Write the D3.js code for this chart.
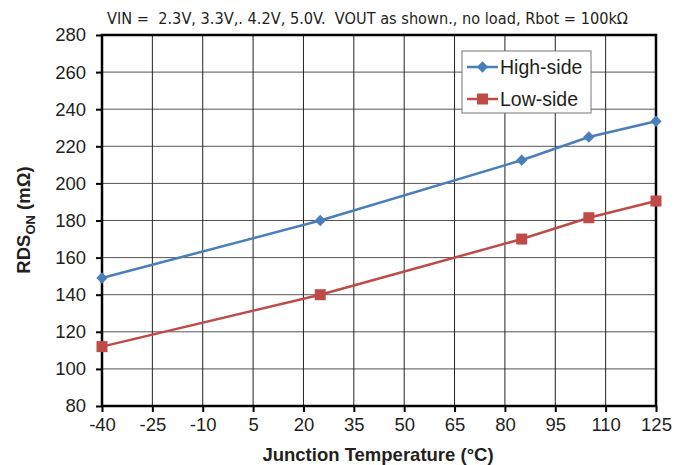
<!DOCTYPE html>
<html>
<head>
<meta charset="utf-8">
<script src="https://cdn.jsdelivr.net/npm/d3@7"></script>
<style>
  body { margin: 0; background: #fff; }
  text { font-family: "Liberation Sans", Arial, sans-serif; }
</style>
</head>
<body>
<div id="chart"></div>
<script>
// data
const temps = [-40, 25, 85, 105, 125];
const highSide = [149, 180, 212.5, 225, 233.5];
const lowSide = [112, 140, 170, 181.5, 190.5];
const xTicks = [-40, -25, -10, 5, 20, 35, 50, 65, 80, 95, 110, 125];
const yTicks = [80, 100, 120, 140, 160, 180, 200, 220, 240, 260, 280];
const seriesNames = ["High-side", "Low-side"];
const titleText = "VIN =  2.3V, 3.3V,. 4.2V, 5.0V.  VOUT as shown., no load, Rbot = 100k\u03A9";

const W = 691, H = 465;
const margin = { top: 35, right: 35, bottom: 59, left: 102 };
const width = W - margin.left - margin.right;
const height = H - margin.top - margin.bottom;

const svg = d3.select("#chart").append("svg")
  .attr("width", W).attr("height", H);

const g = svg.append("g")
  .attr("transform", `translate(${margin.left},${margin.top})`);

const x = d3.scaleLinear().domain([-40, 125]).range([0, width]);
const y = d3.scaleLinear().domain([80, 280]).range([height, 0]);

// grid
g.append("g")
  .selectAll("line")
  .data(yTicks)
  .join("line")
  .attr("x1", 0).attr("x2", width)
  .attr("y1", d => y(d)).attr("y2", d => y(d))
  .attr("stroke", "#555").attr("stroke-width", 1);

g.append("g")
  .selectAll("line")
  .data(xTicks)
  .join("line")
  .attr("x1", d => x(d)).attr("x2", d => x(d))
  .attr("y1", 0).attr("y2", height)
  .attr("stroke", "#222").attr("stroke-width", 1);

// frame
g.append("rect")
  .attr("width", width).attr("height", height)
  .attr("fill", "none").attr("stroke", "#000").attr("stroke-width", 2.5);

// axes (plain hyphen for negatives, like the original)
const xAxis = g.append("g")
  .attr("transform", `translate(0,${height})`)
  .call(d3.axisBottom(x).tickValues(xTicks).tickSize(6).tickPadding(6).tickFormat(d => String(d)));
xAxis.select(".domain").remove();
xAxis.selectAll(".tick line").attr("stroke", "#000").attr("stroke-width", 2);
xAxis.selectAll(".tick text")
  .style("font-family", "Liberation Sans, Arial, sans-serif")
  .style("font-size", "18.5px").attr("fill", "#231f20");

const yAxis = g.append("g")
  .call(d3.axisLeft(y).tickValues(yTicks).tickSize(6).tickPadding(10));
yAxis.select(".domain").remove();
yAxis.selectAll(".tick line").attr("stroke", "#000").attr("stroke-width", 2);
yAxis.selectAll(".tick text")
  .style("font-family", "Liberation Sans, Arial, sans-serif")
  .style("font-size", "18.5px").attr("fill", "#231f20");

// series
const colors = ["#4a7ebb", "#be4b48"];
const seriesData = [highSide, lowSide];
const line = d3.line().x((d, i) => x(temps[i])).y(d => y(d));

seriesData.forEach((vals, s) => {
  g.append("path")
    .datum(vals)
    .attr("d", line)
    .attr("fill", "none")
    .attr("stroke", colors[s])
    .attr("stroke-width", 2.5);
});

const diamond = d3.symbol().type(d3.symbolSquare).size(64);
const square = d3.symbol().type(d3.symbolSquare).size(121);

g.append("g").selectAll("path")
  .data(highSide)
  .join("path")
  .attr("transform", (d, i) => `translate(${x(temps[i])},${y(d)}) rotate(45)`)
  .attr("d", diamond)
  .attr("fill", colors[0]);

g.append("g").selectAll("path")
  .data(lowSide)
  .join("path")
  .attr("transform", (d, i) => `translate(${x(temps[i])},${y(d)})`)
  .attr("d", square)
  .attr("fill", colors[1]);

// legend
const leg = svg.append("g").attr("transform", "translate(462,51)");
leg.append("rect")
  .attr("width", 129).attr("height", 62)
  .attr("fill", "#fff").attr("stroke", "#777").attr("stroke-width", 1);
seriesNames.forEach((name, i) => {
  const ly = 16 + i * 32;
  leg.append("line")
    .attr("x1", 5).attr("x2", 36).attr("y1", ly).attr("y2", ly)
    .attr("stroke", colors[i]).attr("stroke-width", 2.5);
  leg.append("path")
    .attr("transform", `translate(20.5,${ly})` + (i === 0 ? " rotate(45)" : ""))
    .attr("d", i === 0 ? diamond() : square())
    .attr("fill", colors[i]);
  leg.append("text")
    .attr("x", 38).attr("y", ly + 7)
    .style("font-size", "19.5px").attr("fill", "#231f20")
    .text(name);
});

// title
svg.append("text")
  .attr("x", 107).attr("y", 24)
  .attr("textLength", 521).attr("lengthAdjust", "spacingAndGlyphs")
  .style("white-space", "pre")
  .style("font-family", "DejaVu Sans Condensed, Liberation Sans Narrow, sans-serif")
  .style("font-size", "15.5px").attr("fill", "#231f20")
  .text(titleText);

// axis titles
svg.append("text")
  .attr("x", margin.left + width / 2 - 1).attr("y", 461)
  .attr("text-anchor", "middle")
  .style("font-size", "18.5px").style("font-weight", "bold").attr("fill", "#231f20")
  .text("Junction Temperature (\u00B0C)");

const yt = svg.append("text")
  .attr("transform", "translate(30,220) rotate(-90)")
  .attr("text-anchor", "middle")
  .style("font-size", "18.5px").style("font-weight", "bold").attr("fill", "#231f20");
yt.append("tspan").text("RDS");
yt.append("tspan").attr("dy", 5).style("font-size", "13px").text("ON");
yt.append("tspan").attr("dy", -5).text(" (m\u03A9)");
</script>
</body>
</html>
